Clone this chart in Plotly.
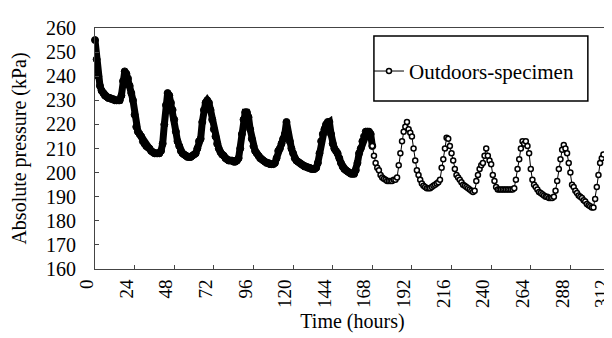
import plotly.graph_objects as go

# Hourly readings, dense logging period (0-168 h)
dense_hours = list(range(0, 169))
dense_kpa = [
    255, 247, 240, 236, 234, 233, 232, 231.5, 231, 231, 230.5, 230.5, 230, 230, 230,
    230, 232, 238, 242, 241, 239, 236, 233, 230, 224, 219, 217, 216, 215, 213,
    212, 211, 210.5, 210, 209, 208.5, 208, 208, 208, 208, 209, 212, 220, 228, 233,
    232, 229, 226, 222, 217, 213, 211, 209, 208, 207.5, 207, 206.5, 206.5, 206.5, 207,
    207.5, 208, 210, 213, 214, 221, 226, 229, 230, 229, 226, 222, 218, 215, 212,
    210, 208.5, 207.5, 207, 206, 205.5, 205, 205, 205, 204.5, 204.5, 205, 206, 210,
    216, 222, 225, 225, 223, 218, 214, 211, 209, 208, 207, 206, 205.5, 205, 204.5,
    204, 204, 203.5, 203.5, 203.5, 204, 206, 209, 210, 212, 214, 216, 221, 216, 213,
    210, 208, 206, 205, 204.5, 204, 203.5, 203, 202.5, 202.5, 202, 202, 201.5, 201.5, 201.5,
    202, 204, 208, 213, 216, 218, 220, 221, 221, 216, 212, 210, 209, 208, 206,
    204, 202.5, 201.5, 201, 200.5, 200, 199.5, 199.5, 199.5, 201, 204, 208, 210, 213, 215,
    217, 217, 217, 216, 211,
]

# Hourly readings, sparser period (168-308 h)
sparse_hours = list(range(168, 309))
sparse_kpa = [
    211, 207, 204, 202, 201, 199, 198, 197.5, 197, 196.5, 196.5, 196.5, 196.5, 197, 197,
    198, 203, 208, 213, 217, 219, 221, 218, 216.5, 215, 210, 205, 201, 199, 197,
    195.5, 194.5, 194, 193.5, 193.5, 193.5, 194, 194.5, 195, 195.5, 196, 197, 202, 205.5, 210,
    214.5, 214, 211, 208, 205, 201.5, 199, 198, 197, 196, 195, 194.5, 194, 193.5, 193,
    192.5, 192, 192.5, 196.5, 199, 201.5, 203, 204, 207, 210, 207, 205, 203.5, 199, 196.5,
    194, 193, 193, 193, 193, 193, 193, 193, 193, 193, 193, 193.5, 197, 201.5, 205.5,
    210, 213, 212, 213, 211, 208, 201.5, 197, 195, 194, 193, 192, 191.5, 191, 190.5,
    190, 190, 189.5, 189.5, 189.5, 190, 192.5, 196.5, 201.5, 205.5, 209.5, 211.5, 210, 208, 204,
    200, 195, 194, 192.5, 191.5, 190.5, 190, 189.5, 188.5, 188, 187, 186.5, 186, 185.5, 185.5,
    189, 194, 199, 204, 206, 207.5,
]

x_ticks = list(range(0, 313, 24))
y_ticks = list(range(160, 261, 10))

FONT = "Liberation Serif"

fig = go.Figure()
fig.add_trace(go.Scatter(
    x=dense_hours, y=dense_kpa, mode="lines+markers",
    line=dict(color="black", width=7),
    marker=dict(symbol="circle", size=7, color="black", line=dict(color="black", width=1)),
    showlegend=False, hoverinfo="skip", cliponaxis=False,
))
fig.add_trace(go.Scatter(
    x=sparse_hours, y=sparse_kpa, mode="lines+markers", name="Outdoors-specimen",
    line=dict(color="black", width=1),
    marker=dict(symbol="circle", size=5, color="white", line=dict(color="black", width=1.5)),
))

fig.add_shape(type="rect", xref="paper", yref="paper",
              x0=0.5416, x1=0.957, y0=0.697, y1=0.967,
              line=dict(color="black", width=1.5), fillcolor="rgba(0,0,0,0)")

fig.update_layout(
    width=612, height=338,
    margin=dict(l=87, r=9, t=17, b=77),
    paper_bgcolor="white", plot_bgcolor="white",
    font=dict(family=FONT, color="black", size=20),
    showlegend=True,
    legend=dict(x=0.532, y=0.82, xanchor="left", yanchor="middle",
                bgcolor="rgba(0,0,0,0)", borderwidth=0,
                font=dict(family=FONT, size=21)),
    xaxis=dict(range=[0, 312], tickvals=x_ticks, ticktext=[str(v) for v in x_ticks],
               tickangle=-90, ticks="inside", ticklen=4, tickcolor="#444",
               showline=True, linecolor="#444", linewidth=1, mirror=True,
               showgrid=False, zeroline=False, ticklabelstandoff=2,
               ticklabelshift=-8,
               ticklabeloverflow="allow", automargin=False,
               tickfont=dict(size=19),
               title=dict(text="Time (hours)", font=dict(size=20), standoff=6)),
    yaxis=dict(range=[160, 260], tickvals=y_ticks, ticktext=[str(v) for v in y_ticks],
               ticks="inside", ticklen=4, tickcolor="#444",
               showline=True, linecolor="#444", linewidth=1, mirror=True,
               showgrid=False, zeroline=False, ticklabelstandoff=14,
               title=dict(text="Absolute pressure (kPa)", font=dict(size=20), standoff=14)),
)

fig.write_html("out.html")
